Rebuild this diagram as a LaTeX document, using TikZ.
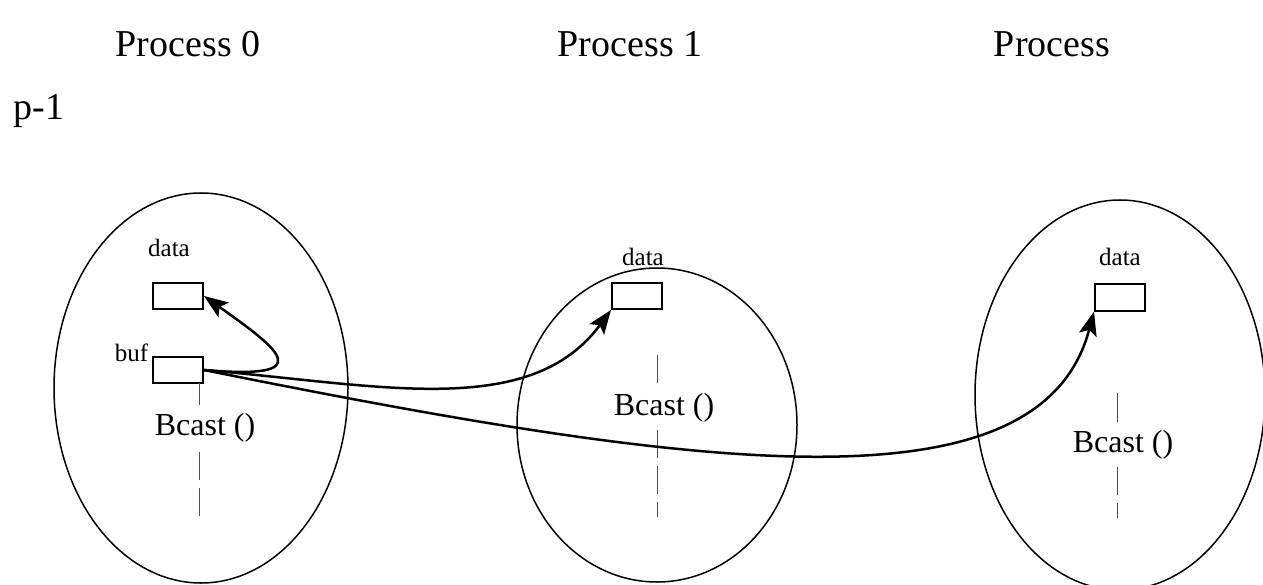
\documentclass[tikz,border=0pt]{standalone}
\usepackage{fontspec}
\setmainfont{Liberation Serif}
\usetikzlibrary{arrows.meta, positioning, shapes.geometric}
\tikzset{
  every picture/.style={line width=1.5pt},
  proc/.style={draw, ellipse, line width=1.5pt, inner sep=0pt},
  cell/.style={draw, line width=2pt, minimum width=50pt, minimum height=26pt, inner sep=0pt},
  heading/.style={font=\fontsize{38}{45}\selectfont, anchor=base, inner sep=0pt},
  var/.style={font=\fontsize{25}{30}\selectfont, inner sep=0pt},
  call/.style={font=\fontsize{32}{38}\selectfont, anchor=base, inner sep=0pt},
  msg/.style={-{Stealth[length=24pt, width=18pt, inset=5pt]}, line width=2.5pt},
  lifeline/.style={draw=black!70, line width=1pt},
}

\begin{document}
\begin{tikzpicture}[x=1pt, y=-1pt]
  \useasboundingbox (0,0) rectangle (1263,585);
  % headings
  \node[heading] (h0) at (188,57) {Process 0};
  \node[heading] (h1) at (630,57) {Process 1};
  \node[heading] (h2) at (1052,57) {Process};
  \node[heading, anchor=base west] (hp) at (13,120) {p-1};
  % the three processes
  \node[proc, minimum width=294pt, minimum height=390pt] (p0) at (201,388) {};
  \node[proc, minimum width=280pt, minimum height=314pt] (p1) at (657,425) {};
  \node[proc, minimum width=290pt, minimum height=390pt] (p2) at (1120,395) {};
  % buffers
  \node[cell] (data0) at (178,296) {};
  \node[cell] (buf0) at (178,370) {};
  \node[cell] (data1) at (637,296) {};
  \node[cell] (data2) at (1120,297.5) {};
  \node[var, above=25pt of data0, xshift=-9pt] (ld0) {data};
  \node[var, above=16pt of data1, xshift=6pt] (ld1) {data};
  \node[var, above=17pt of data2] (ld2) {data};
  \node[var, anchor=base east] (lbuf) at ([xshift=-3pt, yshift=-5pt]buf0.north west) {buf};
  % calls
  \node[call] (bc0) at (205,435) {Bcast ()};
  \node[call] (bc1) at (664,415) {Bcast ()};
  \node[call] (bc2) at (1123,452) {Bcast ()};
  \foreach \x/\a/\b/\c/\d in {199/383/405/452/517, 657/355/383/430/517, 1117/393/422/467/518} {
    \draw[lifeline] (\x,\a) -- (\x,\b);
    \draw[lifeline, dash pattern=on 28pt off 8pt] (\x,\c) -- (\x,\d);
  }
  % broadcast
  \draw[msg] (buf0.east) .. controls (320,380) and (280,350) .. (data0.east);
  \draw[msg] (buf0.east) .. controls (380,385) and (530,420) .. (data1.south west);
  \draw[msg] (buf0.east) .. controls (700,470) and (1040,515) .. (data2.south west);
\end{tikzpicture}
\end{document}
